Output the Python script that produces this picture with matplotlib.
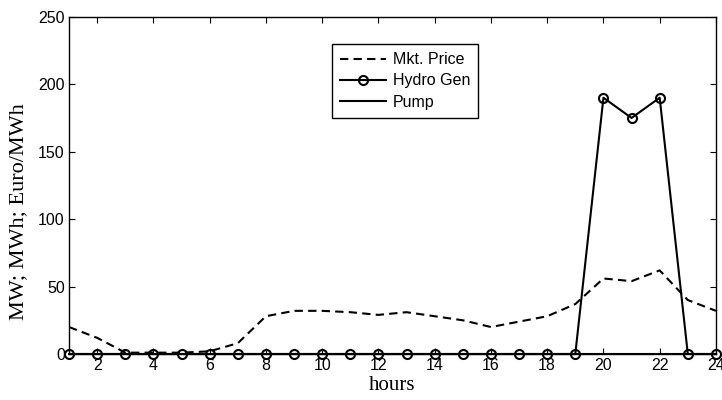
import matplotlib
matplotlib.use("Agg")
import matplotlib.pyplot as plt

# hourly values
hours = list(range(1, 25))
mkt_price = [20, 12, 1, 1, 1, 2, 8, 28, 32, 32, 31, 29,
             31, 28, 25, 20, 24, 28, 37, 56, 54, 62, 40, 32]
hydro_gen = [0] * 19 + [190, 175, 190] + [0, 0]
pump = [0] * 24

x_ticks = list(range(2, 25, 2))
y_ticks = [0, 50, 100, 150, 200, 250]

fig = plt.figure(figsize=(7.22, 4.0), dpi=100)
ax = fig.add_axes([0.0956, 0.115, 0.896, 0.843])

ax.plot(hours, mkt_price, color="black", linestyle="--", linewidth=1.5,
        dashes=(4, 2.5), label="Mkt. Price")
ax.plot(hours, hydro_gen, color="black", linewidth=1.5, marker="o",
        markersize=6.5, markerfacecolor="none", markeredgewidth=1.5,
        label="Hydro Gen", clip_on=False, zorder=3)
ax.plot(hours, pump, color="black", linewidth=1.5, label="Pump")

ax.set_xlim(1, 24)
ax.set_ylim(0, 250)
ax.set_xticks(x_ticks)
ax.set_yticks(y_ticks)

tick_font = "Liberation Sans"
for lbl in ax.get_xticklabels() + ax.get_yticklabels():
    lbl.set_fontfamily(tick_font)
    lbl.set_fontsize(11.5)

ax.tick_params(direction="in", top=True, right=True, length=4.5, width=0.8,
               pad=3)
for s in ax.spines.values():
    s.set_linewidth(1.0)

ax.set_xlabel("hours", fontfamily="Liberation Serif", fontsize=15, labelpad=2)
ax.set_ylabel("MW; MWh; Euro/MWh", fontfamily="Liberation Serif", fontsize=16)
# label sits a bit below the axes centre in the original
ax.yaxis.set_label_coords(-0.063, 0.4225)

leg = ax.legend(loc="upper left", bbox_to_anchor=(0.4065, 0.919),
                prop={"family": tick_font, "size": 11.5}, fancybox=False,
                edgecolor="black", framealpha=1, handlelength=2.9,
                borderpad=0.5, labelspacing=0.4, handletextpad=0.4,
                borderaxespad=0)
leg.get_frame().set_linewidth(1.0)

fig.savefig("out.png", dpi=100)
